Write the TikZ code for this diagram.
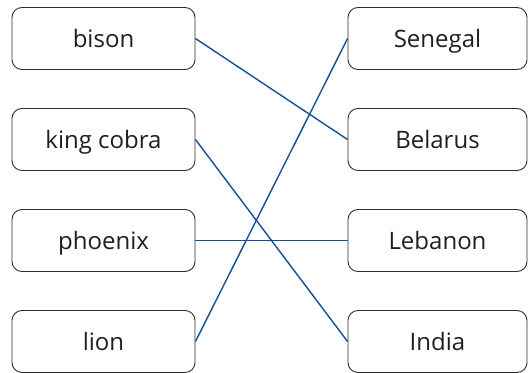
\documentclass[tikz,border=0pt]{standalone}
\usepackage{fontspec}
\setmainfont{Open Sans}
\definecolor{linkblue}{RGB}{20,78,150}
\definecolor{boxgray}{RGB}{45,45,45}
\begin{document}
\begin{tikzpicture}[x=1pt,y=-1pt,
  itembox/.style={draw=boxgray,line width=0.9pt,rounded corners=10pt,inner sep=0pt,
    text height=18pt,text depth=1pt,font=\fontsize{24}{28}\selectfont,text=black!88},
  leftbox/.style={itembox,minimum width=183pt,minimum height=62pt},
  rightbox/.style={itembox,minimum width=179pt,minimum height=62pt},
  link/.style={draw=linkblue,line width=1.4pt}]
\useasboundingbox (0,0) rectangle (529,372);
\node[leftbox] (bison) at (103.5,38.5) {bison};
\node[leftbox] (cobra) at (103.5,139.5) {king cobra};
\node[leftbox] (phoenix) at (103.5,240.5) {phoenix};
\node[leftbox] (lion) at (103.5,341.5) {lion};
\node[rightbox] (senegal) at (437.5,38.5) {Senegal};
\node[rightbox] (belarus) at (437.5,139.5) {Belarus};
\node[rightbox] (lebanon) at (437.5,240.5) {Lebanon};
\node[rightbox] (india) at (437.5,341.5) {India};
\draw[link] (bison.east) -- (belarus.west);
\draw[link] (cobra.east) -- (india.west);
\draw[link] (phoenix.east) -- (lebanon.west);
\draw[link] (lion.east) -- (senegal.west);
\end{tikzpicture}
\end{document}
